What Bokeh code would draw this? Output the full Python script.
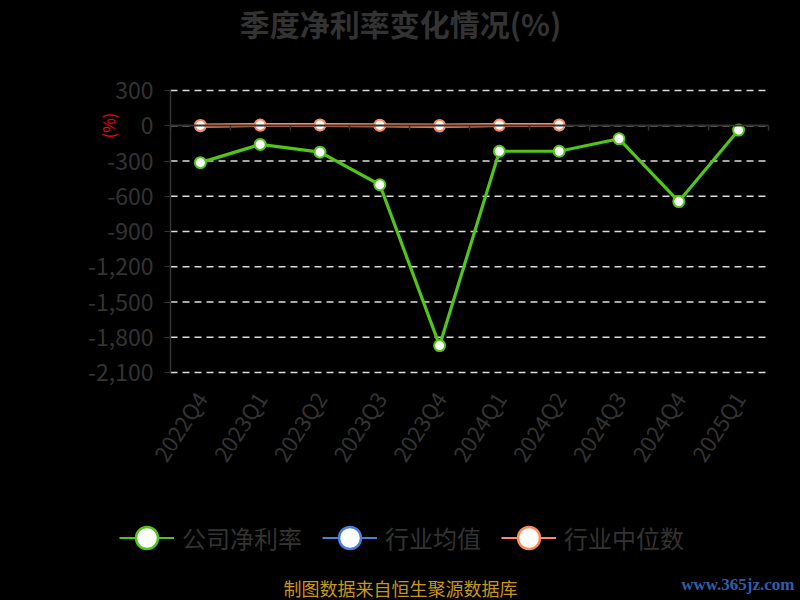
import math
from bokeh.plotting import figure
from bokeh.models import (Range1d, FixedTicker, NumeralTickFormatter, LinearAxis,
                          Legend, LegendItem, ColumnDataSource, Label)
from bokeh.embed import file_html
from bokeh.resources import INLINE

quarters = ["2022Q4", "2023Q1", "2023Q2", "2023Q3", "2023Q4",
            "2024Q1", "2024Q2", "2024Q3", "2024Q4", "2025Q1"]
company = [-314, -159, -225, -502, -1871, -217, -217, -111, -645, -37]
industry_avg = [-6, 3, 2, -1, -9, 2, 3]
industry_median = [3, 6, 7, 5, 2, 6, 7]
y_ticks = [300, 0, -300, -600, -900, -1200, -1500, -1800, -2100]

GREEN = "#52c41a"
BLUE = "#4a7fe0"
ORANGE = "#ff8a5c"
TEXT = "#333333"
FONT = "Noto Sans CJK SC"

# layout (page pixels)
W, H = 800, 600
PL, PR, PT, PB = 170, 768, 90, 372
ncat = len(quarters)
idx = list(range(ncat))
cat_w = (PR - PL) / ncat
ymax, ymin = max(y_ticks), min(y_ticks)
u_per_px = (ymax - ymin) / (PB - PT)

p = figure(width=W, height=H, output_backend="svg", toolbar_location=None,
           x_axis_type=None, y_axis_type=None,
           x_range=Range1d(-0.5 - PL / cat_w, -0.5 + (W - PL) / cat_w),
           y_range=Range1d(ymin - (H - PB) * u_per_px, ymax + PT * u_per_px),
           min_border=0)
p.background_fill_color = "#000000"
p.border_fill_color = "#000000"
p.outline_line_color = None

# dashed horizontal grid lines at the y ticks
p.segment(x0=[-0.5] * len(y_ticks), x1=[ncat - 0.5] * len(y_ticks),
          y0=y_ticks, y1=y_ticks, line_color="#dddddd", line_width=1.5,
          line_dash="7 5")

# y axis
yaxis = LinearAxis(fixed_location=-0.5, bounds=(ymin, ymax),
                   ticker=FixedTicker(ticks=y_ticks),
                   formatter=NumeralTickFormatter(format="0,0"),
                   axis_line_color=TEXT, axis_line_width=1.5,
                   major_tick_line_color=TEXT, major_tick_out=6, major_tick_in=0,
                   minor_tick_line_color=None,
                   major_label_text_color=TEXT, major_label_text_font=FONT,
                   major_label_text_font_size="23px", major_label_standoff=11)
p.add_layout(yaxis, "left")

# category labels along the bottom of the plot area
xaxis = LinearAxis(fixed_location=ymin, ticker=FixedTicker(ticks=idx),
                   major_label_overrides={i: q for i, q in enumerate(quarters)},
                   axis_line_color=None, major_tick_line_color=None,
                   minor_tick_line_color=None,
                   major_label_orientation=math.radians(57),
                   major_label_text_color=TEXT, major_label_text_font=FONT,
                   major_label_text_font_size="22px", major_label_standoff=15)
p.add_layout(xaxis, "below")

# category axis on zero with boundary ticks
bounds = [i - 0.5 for i in range(ncat + 1)]
zero_axis = LinearAxis(fixed_location=0, bounds=(-0.5, ncat - 0.5),
                       ticker=FixedTicker(ticks=bounds),
                       major_label_overrides={b: "" for b in bounds},
                       axis_line_color=TEXT, axis_line_width=2,
                       major_tick_line_color=TEXT, major_tick_line_width=1.5,
                       major_tick_out=5, major_tick_in=0,
                       minor_tick_line_color=None)
p.add_layout(zero_axis, "below")

# series
x_ind = idx[:len(industry_avg)]
p.line(x_ind, industry_avg, line_color=BLUE, line_width=3)
p.scatter(x_ind, industry_avg, size=10, fill_color="white", line_color=BLUE, line_width=2)
p.line(x_ind, industry_median, line_color=ORANGE, line_width=4)
p.scatter(x_ind, industry_median, size=11, fill_color="white", line_color=ORANGE, line_width=2)
p.line(idx, company, line_color=GREEN, line_width=3.2)
p.scatter(idx, company, size=11, fill_color="white", line_color=GREEN, line_width=2)

# legend glyph proxies (no visible data)
nan = float("nan")
proxy = ColumnDataSource(data=dict(x=[nan, nan], y=[nan, nan]))
items = []
for name, col in [("公司净利率", GREEN), ("行业均值", BLUE), ("行业中位数", ORANGE)]:
    lr = p.line("x", "y", source=proxy, line_color=col, line_width=2)
    sr = p.scatter("x", "y", source=proxy, fill_color="white",
                   line_color=col, line_width=2.5)
    items.append(LegendItem(label=name, renderers=[lr, sr]))

legend = Legend(items=items, orientation="horizontal", location=(119, H - 565),
                glyph_width=55, glyph_height=55, label_height=24,
                label_standoff=8, spacing=20, padding=0, margin=0,
                border_line_color=None, background_fill_alpha=0,
                label_text_color=TEXT, label_text_font=FONT,
                label_text_font_size="24px")
p.add_layout(legend)

# texts (screen units measured from bottom-left of the canvas)
p.add_layout(Label(x=W / 2, y=H - 22, x_units="screen", y_units="screen",
                   text="季度净利率变化情况(%)", text_align="center",
                   text_baseline="middle", text_color=TEXT, text_font=FONT,
                   text_font_size="30px", text_font_style="bold"))
p.add_layout(Label(x=107, y=H - 125, x_units="screen", y_units="screen",
                   text="(%)", angle=math.pi / 2, text_align="center",
                   text_baseline="middle", text_color="#ff0000", text_font=FONT,
                   text_font_size="16px"))
p.add_layout(Label(x=W / 2, y=H - 587, x_units="screen", y_units="screen",
                   text="制图数据来自恒生聚源数据库", text_align="center",
                   text_baseline="middle", text_color="#c9961a", text_font=FONT,
                   text_font_size="18px"))
p.add_layout(Label(x=794, y=H - 584, x_units="screen", y_units="screen",
                   text="www.365jz.com", text_align="right",
                   text_baseline="middle", text_color="#2f5fa8",
                   text_font="Liberation Serif", text_font_size="17px",
                   text_font_style="bold"))

html = file_html(p, INLINE)
html = html.replace("<body>", '<body style="background-color:#000000;">')
open("out.html", "w").write(html)
